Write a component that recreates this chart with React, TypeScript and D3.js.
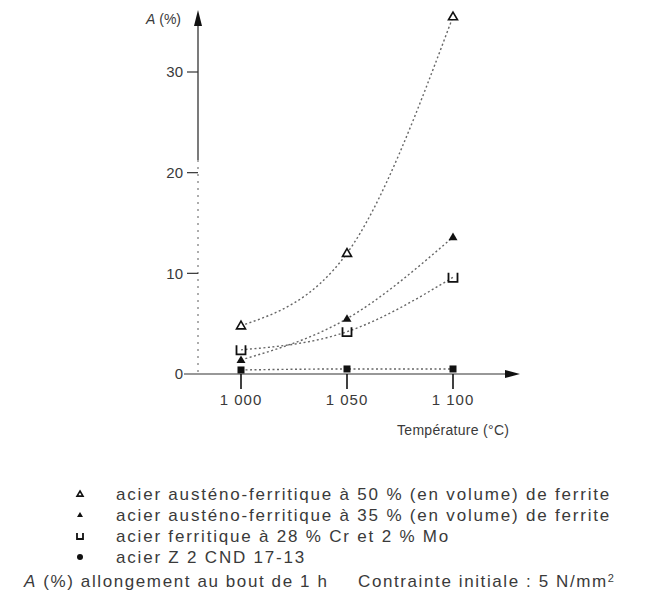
import * as d3 from "d3";

// Temperature (°C) on the x axis, elongation A (%) on the y axis
const temperatures = [1000, 1050, 1100];
const ferrite50 = [4.8, 12.0, 35.5];
const ferrite35 = [1.4, 5.5, 13.6];
const ferritique28 = [2.4, 4.2, 9.6];
const z2cnd = [0.4, 0.5, 0.5];

const xTickLabels = ["1 000", "1 050", "1 100"];
const yTicks = [10, 20, 30];

const legendLabels = [
  "acier austéno-ferritique à 50 % (en volume) de ferrite",
  "acier austéno-ferritique à 35 % (en volume) de ferrite",
  "acier ferritique à 28 % Cr et 2 % Mo",
  "acier Z 2 CND 17-13",
];
const markerKinds = ["triangleOpen", "triangleFilled", "squareOpen", "circleFilled"];
const seriesList = [ferrite50, ferrite35, ferritique28, z2cnd];

const FONT = "'Liberation Sans', Arial, sans-serif";
const INK = "#3a3a3a";

function Marker({ kind, x, y, s }: { kind: string; x: number; y: number; s: number }) {
  if (kind === "triangleOpen" || kind === "triangleFilled") {
    const p = `M${x},${y - s} L${x + s},${y + s * 0.7} L${x - s},${y + s * 0.7} Z`;
    return kind === "triangleOpen" ? (
      <path d={p} fill="#fff" stroke="#111" strokeWidth={1.6} />
    ) : (
      <path d={p} fill="#111" />
    );
  }
  if (kind === "squareOpen") {
    return (
      <path
        d={`M${x - s},${y - s} L${x - s},${y + s} L${x + s},${y + s} L${x + s},${y - s}`}
        fill="none"
        stroke="#111"
        strokeWidth={1.8}
      />
    );
  }
  return <rect x={x - s} y={y - s} width={s * 2} height={s * 2} fill="#111" />;
}

export default function App() {
  const x = d3.scaleLinear().domain([1000, 1100]).range([241, 453]);
  const y = d3.scaleLinear().domain([0, 30]).range([374, 72]);
  const axisX0 = 198;

  const line = d3
    .line<number>()
    .x((_, i) => x(temperatures[i]))
    .y((d) => y(d))
    .curve(d3.curveMonotoneX);

  return (
    <svg
      width={654}
      height={598}
      style={{ position: "absolute", left: 0, top: 0, background: "#fff" }}
      fontFamily={FONT}
    >
      {/* curves */}
      {seriesList.map((s, i) => (
        <path
          key={i}
          d={line(s) || ""}
          fill="none"
          stroke="#666"
          strokeWidth={1.4}
          strokeDasharray="2 2.5"
        />
      ))}

      {/* y axis */}
      <line x1={axisX0} y1={24} x2={axisX0} y2={160} stroke="#222" strokeWidth={1.2} />
      <line x1={axisX0} y1={160} x2={axisX0} y2={y(0)} stroke="#777" strokeWidth={1.2} strokeDasharray="2 5" />
      <path d={`M${axisX0},10 L${axisX0 + 4},26 L${axisX0 - 4},26 Z`} fill="#111" />
      <text x={181} y={24} fontSize={14} fill={INK} textAnchor="end">
        <tspan fontStyle="italic">A</tspan> (%)
      </text>
      {yTicks.map((t) => (
        <g key={t}>
          <line x1={axisX0 - 11} x2={axisX0} y1={y(t)} y2={y(t)} stroke="#333" strokeWidth={1.2} />
          <text x={axisX0 - 15} y={y(t)} dy="0.36em" fontSize={15} fill={INK} textAnchor="end">
            {t}
          </text>
        </g>
      ))}
      <text x={axisX0 - 15} y={y(0)} dy="0.36em" fontSize={15} fill={INK} textAnchor="end">
        0
      </text>

      {/* x axis */}
      <line x1={184} y1={y(0)} x2={512} y2={y(0)} stroke="#333" strokeWidth={1.2} />
      <path d={`M520,${y(0)} L505,${y(0) - 4} L505,${y(0) + 4} Z`} fill="#111" />
      {temperatures.map((t, i) => (
        <g key={t}>
          <line x1={x(t)} x2={x(t)} y1={y(0)} y2={y(0) + 15} stroke="#111" strokeWidth={1.6} />
          <text x={x(t)} y={y(0) + 26} dy="0.36em" fontSize={15} fill={INK} textAnchor="middle" letterSpacing={1}>
            {xTickLabels[i]}
          </text>
        </g>
      ))}
      <text x={397} y={430} dy="0.36em" fontSize={14} fill={INK} letterSpacing={0.3}>
        Température (°C)
      </text>

      {/* markers */}
      {seriesList.map((s, si) =>
        s.map((v, i) => (
          <Marker key={`${si}-${i}`} kind={markerKinds[si]} x={x(temperatures[i])} y={y(v)} s={si === 3 ? 3.5 : 4.5} />
        ))
      )}

      {/* legend */}
      {legendLabels.map((lab, i) => (
        <g key={lab} transform={`translate(0, ${494 + i * 21})`}>
          {markerKinds[i] === "circleFilled" ? (
            <circle cx={80} cy={0} r={3} fill="#111" />
          ) : (
            <Marker kind={markerKinds[i]} x={80} y={0} s={3} />
          )}
          <text x={116} y={0} dy="0.36em" fontSize={17} fill={INK} letterSpacing={1.8}>
            {lab}
          </text>
        </g>
      ))}

      {/* footnotes */}
      <text x={24} y={581} dy="0.36em" fontSize={17} fill={INK} letterSpacing={1.6}>
        <tspan fontStyle="italic">A</tspan> (%) allongement au bout de 1 h
      </text>
      <text x={358} y={581} dy="0.36em" fontSize={17} fill={INK} letterSpacing={1.6}>
        Contrainte initiale : 5 N/mm
        <tspan dy="-0.5em" fontSize={11}>2</tspan>
      </text>
    </svg>
  );
}
